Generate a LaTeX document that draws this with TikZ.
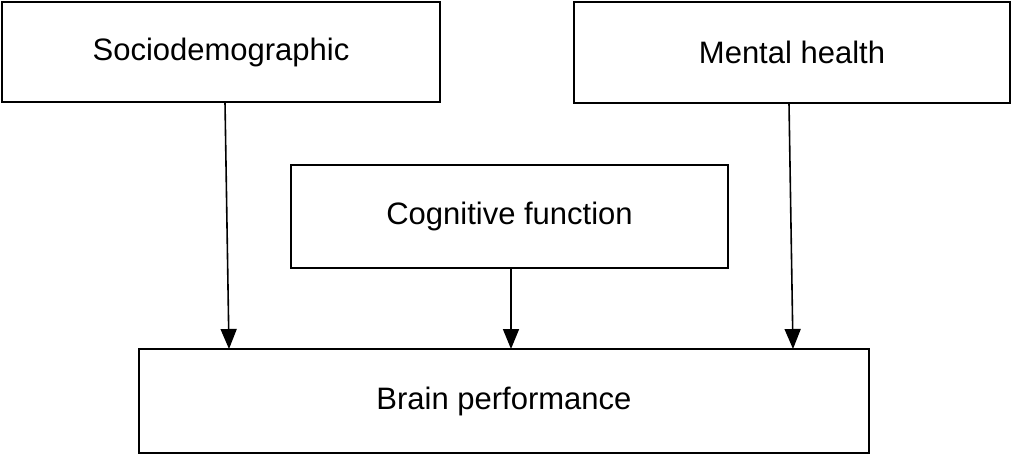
\documentclass[tikz,border=0pt]{standalone}
\usepackage{fontspec}
\setmainfont{Liberation Sans}
\usetikzlibrary{arrows.meta}
\begin{document}
\begin{tikzpicture}[x=1pt,y=-1pt,
  box/.style={draw,line width=1.8pt,inner sep=0pt,font=\fontsize{31}{36}\selectfont},
  arr/.style={line width=1.6pt,-{Triangle[length=20pt,width=16pt]}}]
\useasboundingbox (0,0) rectangle (1013,455);
\node[box,minimum width=438pt,minimum height=100pt] (soc) at (221,52) {Sociodemographic};
\node[box,minimum width=436pt,minimum height=101pt] (men) at (792,52.5) {Mental health};
\node[box,minimum width=437pt,minimum height=103pt] (cog) at (509.5,216.5) {Cognitive function};
\node[box,minimum width=730pt,minimum height=104pt] (bra) at (504,401) {Brain performance};
\coordinate (s1) at (225,102); \coordinate (s2) at (229,349);
\coordinate (c1) at (511,267); \coordinate (c2) at (511,349);
\coordinate (m1) at (789,103); \coordinate (m2) at (793,349);
\draw[arr] (s1) -- (s2);
\draw[arr] (c1) -- (c2);
\draw[arr] (m1) -- (m2);
\end{tikzpicture}
\end{document}
